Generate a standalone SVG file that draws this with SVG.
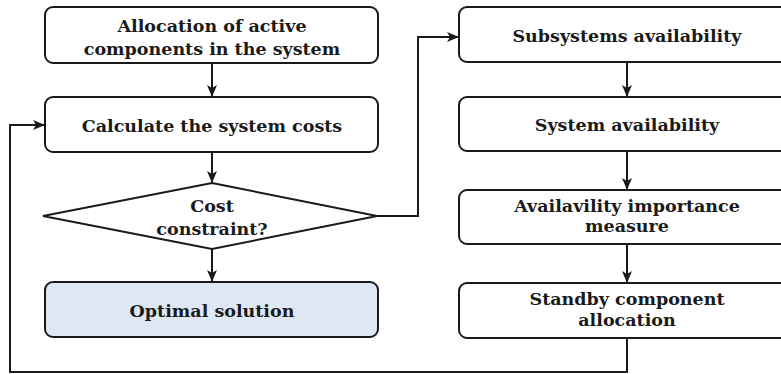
<svg xmlns="http://www.w3.org/2000/svg" width="781" height="374" viewBox="0 0 781 374">
<style>
.box{fill:#fff;stroke:#1a1a1a;stroke-width:2}
.opt{fill:#dde8f4;stroke:#1a1a1a;stroke-width:2}
.t{font-family:"DejaVu Serif",serif;font-weight:bold;font-size:17.5px;fill:#1a1a1a;text-anchor:middle}
.c{fill:none;stroke:#1a1a1a;stroke-width:2}
</style>
<defs>
<marker id="ah" viewBox="0 0 12 10" refX="11" refY="5" markerWidth="12" markerHeight="10" markerUnits="userSpaceOnUse" orient="auto">
<path d="M0,0 L12,5 L0,10 L3,5 z" fill="#1a1a1a"/>
</marker>
</defs>
<g id="connectors">
<line class="c" x1="212" y1="63" x2="212" y2="96" marker-end="url(#ah)"/>
<line class="c" x1="212" y1="152" x2="212" y2="182" marker-end="url(#ah)"/>
<line class="c" x1="212" y1="249" x2="212" y2="281" marker-end="url(#ah)"/>
<polyline class="c" points="377,216 418,216 418,37 458,37" marker-end="url(#ah)"/>
<line class="c" x1="627" y1="62" x2="627" y2="96" marker-end="url(#ah)"/>
<line class="c" x1="627" y1="151" x2="627" y2="189" marker-end="url(#ah)"/>
<line class="c" x1="627" y1="244" x2="627" y2="282" marker-end="url(#ah)"/>
<polyline class="c" points="627,338 627,372 10,372 10,125 44,125" marker-end="url(#ah)"/>
</g>
<g id="n1"><rect class="box" x="45" y="7" width="333" height="56" rx="8"/>
<text class="t" x="212" y="32">Allocation of active</text>
<text class="t" x="212" y="55">components in the system</text></g>
<g id="n2"><rect class="box" x="45" y="97" width="333" height="55" rx="8"/>
<text class="t" x="212" y="132">Calculate the system costs</text></g>
<g id="n3"><polygon class="box" points="212,183 377,216 212,249 43,216"/>
<text class="t" x="212" y="212">Cost</text>
<text class="t" x="212" y="235">constraint?</text></g>
<g id="n4"><rect class="opt" x="45" y="282" width="333" height="55" rx="8"/>
<text class="t" x="212" y="317">Optimal solution</text></g>
<g id="n5"><rect class="box" x="459" y="7" width="336" height="55" rx="8"/>
<text class="t" x="627" y="42">Subsystems availability</text></g>
<g id="n6"><rect class="box" x="459" y="97" width="336" height="54" rx="8"/>
<text class="t" x="627" y="131">System availability</text></g>
<g id="n7"><rect class="box" x="459" y="190" width="336" height="54" rx="8"/>
<text class="t" x="627" y="212">Availavility importance</text>
<text class="t" x="627" y="232">measure</text></g>
<g id="n8"><rect class="box" x="459" y="283" width="336" height="55" rx="8"/>
<text class="t" x="627" y="305">Standby component</text>
<text class="t" x="627" y="326">allocation</text></g>
</svg>
